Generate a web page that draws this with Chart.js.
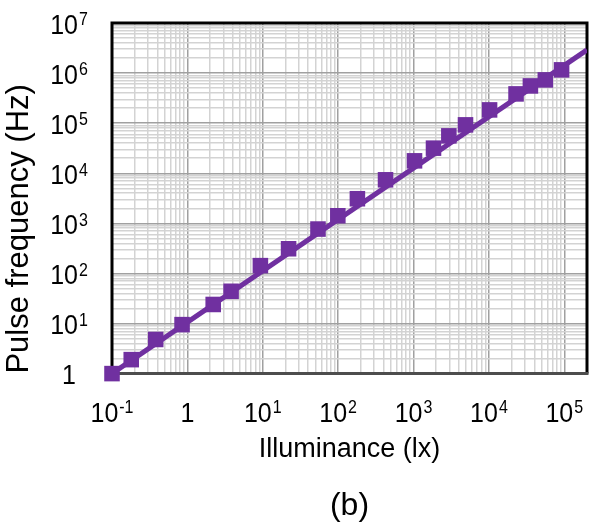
<!DOCTYPE html>
<html>
<head>
<meta charset="utf-8">
<script src="https://cdn.jsdelivr.net/npm/chart.js@4"></script>
<style>
html,body{margin:0;padding:0;background:#fff;}
canvas{display:block;}
</style>
</head>
<body>
<canvas id="c" width="590" height="525"></canvas>
<script>
// ---- data ----
const illuminance = [0.1, 0.18, 0.38, 0.85, 2.2, 3.8, 9.3, 22, 54, 99, 180, 425, 1030, 1840, 2940, 4890, 10200, 22900, 35500, 56000, 92000];
const frequency   = [1.0, 1.9, 4.8, 9.5, 24, 44, 143, 311, 769, 1417, 3100, 7400, 17700, 31700, 55800, 92500, 184000, 384000, 554000, 731000, 1160000];
const trendX = [0.1, 200000];
const trendY = [1.0, 2900000];

const xMajorTicks = [0.1, 1, 10, 100, 1000, 10000, 100000];
const xTickBase = ['10', '1', '10', '10', '10', '10', '10'];
const xTickExp  = ['-1', '', '1', '2', '3', '4', '5'];
const yMajorTicks = [1, 10, 100, 1000, 10000, 100000, 1000000, 10000000];
const yTickBase = ['1', '10', '10', '10', '10', '10', '10', '10'];
const yTickExp  = ['', '1', '2', '3', '4', '5', '6', '7'];

const xRange = [0.1, 200000];
const yRange = [1, 10000000];

const xTitle = 'Illuminance (lx)';
const yTitle = 'Pulse frequency (Hz)';
const panelLabel = '(b)';

// ---- helpers ----
function withMinors(majors, max) {
  const out = [];
  majors.forEach(m => {
    for (let k = 1; k <= 9; k++) {
      const v = +(m * k).toPrecision(6);
      if (v <= max * 1.0000001) out.push(v);
    }
  });
  return out;
}
function isMajor(v) {
  if (!v) return false;
  const l = Math.log10(v);
  return Math.abs(l - Math.round(l)) < 1e-6;
}
const gridColor = ctx => isMajor(ctx.tick && ctx.tick.value) ? '#a0a0a0' : '#d3d3d3';

const FONT = "'Liberation Sans', Arial, sans-serif";
const PURPLE = '#7030A0';
const TICK_SIZE = 25;
const EXP_SIZE = 16;
const STRETCH = 1.12;

function drawPower(ctx, base, exp, cx, baseline) {
  ctx.font = TICK_SIZE + 'px ' + FONT;
  const w1 = ctx.measureText(base).width;
  ctx.font = EXP_SIZE + 'px ' + FONT;
  const w2 = exp ? ctx.measureText(exp).width + 1 : 0;
  const left = cx - (w1 + w2) / 2;
  ctx.save();
  ctx.translate(0, baseline);
  ctx.scale(1, STRETCH);
  ctx.textAlign = 'left';
  ctx.textBaseline = 'alphabetic';
  ctx.fillStyle = '#000';
  ctx.font = TICK_SIZE + 'px ' + FONT;
  ctx.fillText(base, left, 0);
  if (exp) {
    ctx.font = EXP_SIZE + 'px ' + FONT;
    ctx.fillText(exp, left + w1 + 1, -8.5 / STRETCH);
  }
  ctx.restore();
}

const framePlugin = {
  id: 'frame',
  beforeDatasetsDraw(chart) {
    const {ctx, chartArea: a} = chart;
    ctx.save();
    ctx.lineWidth = 3;
    ctx.strokeStyle = '#000';
    ctx.beginPath();
    ctx.moveTo(a.left, a.bottom);
    ctx.lineTo(a.left, a.top);
    ctx.lineTo(a.right, a.top);
    ctx.lineTo(a.right, a.bottom);
    ctx.stroke();
    ctx.strokeStyle = '#4d4d4d';
    ctx.beginPath();
    ctx.moveTo(a.left - 1.5, a.bottom);
    ctx.lineTo(a.right + 1.5, a.bottom);
    ctx.stroke();
    ctx.restore();
  },
  afterDraw(chart) {
    const ctx = chart.ctx;
    const xs = chart.scales.x, ys = chart.scales.y;
    ctx.save();
    xMajorTicks.forEach((v, i) => {
      drawPower(ctx, xTickBase[i], xTickExp[i], xs.getPixelForValue(v), xs.top + 48);
    });
    const yCenter = ys.left + 69;
    yMajorTicks.forEach((v, i) => {
      drawPower(ctx, yTickBase[i], yTickExp[i], yCenter, ys.getPixelForValue(v) + 10.8);
    });
    ctx.restore();
  }
};

new Chart(document.getElementById('c'), {
  type: 'scatter',
  data: {
    datasets: [
      {
        label: 'Measured',
        data: illuminance.map((x, i) => ({x: x, y: frequency[i]})),
        pointStyle: 'rect',
        pointRadius: 11,
        pointBackgroundColor: PURPLE,
        pointBorderColor: PURPLE,
        pointBorderWidth: 0,
        showLine: false,
        clip: false,
        order: 0
      },
      {
        label: 'Fit',
        data: trendX.map((x, i) => ({x: x, y: trendY[i]})),
        showLine: true,
        borderColor: PURPLE,
        borderWidth: 5,
        pointRadius: 0,
        fill: false,
        order: 1
      }
    ]
  },
  options: {
    responsive: false,
    animation: false,
    devicePixelRatio: 1,
    layout: { autoPadding: false, padding: { top: 23, right: 3, left: 0, bottom: 0 } },
    plugins: {
      legend: { display: false },
      tooltip: { enabled: false },
      title: {
        display: true,
        position: 'bottom',
        fullSize: false,
        text: panelLabel,
        color: '#000',
        font: { family: FONT, size: 32, weight: 'normal' },
        padding: { top: 4, bottom: 0 }
      }
    },
    scales: {
      x: {
        type: 'logarithmic',
        position: 'bottom',
        min: xRange[0],
        max: xRange[1],
        afterBuildTicks: s => { s.ticks = withMinors(xMajorTicks, xRange[1]).map(v => ({value: v})); },
        afterFit: s => { s.height = 109; s.paddingLeft = 0; s.paddingRight = 0; s.paddingTop = 0; s.paddingBottom = 0; },
        ticks: { display: false, autoSkip: false, maxRotation: 0, minRotation: 0 },
        grid: { color: gridColor, lineWidth: 1.5, drawTicks: false },
        border: { display: false },
        title: {
          display: true,
          text: xTitle,
          color: '#000',
          font: { family: FONT, size: 27 },
          padding: { top: 0, bottom: 17 }
        }
      },
      y: {
        type: 'logarithmic',
        position: 'left',
        min: yRange[0],
        max: yRange[1],
        afterBuildTicks: s => { s.ticks = withMinors(yMajorTicks, yRange[1]).map(v => ({value: v})); },
        afterFit: s => { s.width = 112; s.paddingLeft = 0; s.paddingRight = 0; s.paddingTop = 0; s.paddingBottom = 0; },
        ticks: { display: false, autoSkip: false },
        grid: { color: gridColor, lineWidth: 1.5, drawTicks: false },
        border: { display: false },
        title: {
          display: true,
          text: yTitle,
          align: 'start',
          color: '#000',
          font: { family: FONT, size: 31 },
          padding: { top: 1, bottom: 0 }
        }
      }
    }
  },
  plugins: [framePlugin]
});
</script>
</body>
</html>
